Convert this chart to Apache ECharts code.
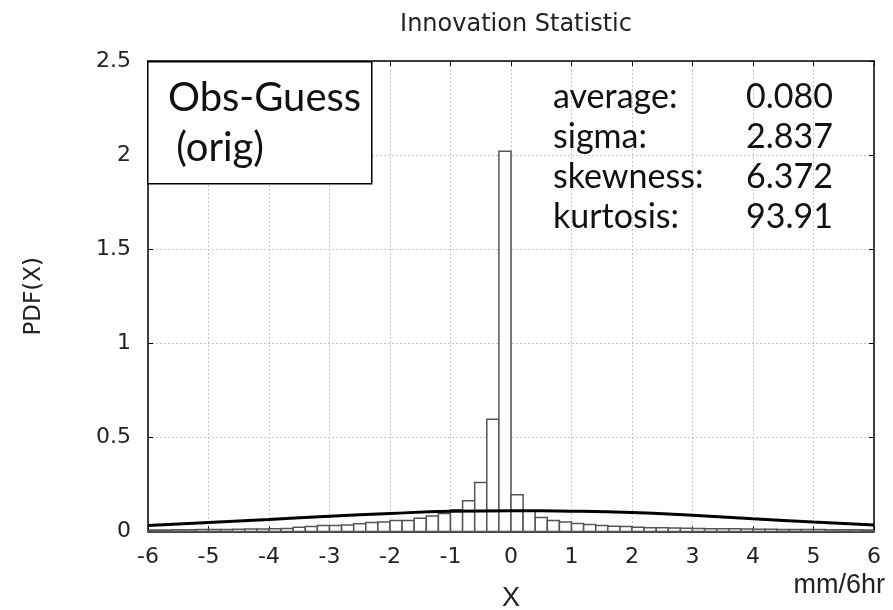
<!DOCTYPE html>
<html>
<head>
<meta charset="utf-8">
<script src="https://cdn.jsdelivr.net/npm/echarts@6/dist/echarts.min.js"></script>
<style>
  html, body { margin: 0; padding: 0; background: #fff; }
  #chart { width: 893px; height: 610px; }
</style>
</head>
<body>
<div id="chart"></div>
<script>
// Histogram bins (left edges, width 0.2) and their PDF heights
const binLeft = [
  -6.0, -5.8, -5.6, -5.4, -5.2, -5.0, -4.8, -4.6, -4.4, -4.2,
  -4.0, -3.8, -3.6, -3.4, -3.2, -3.0, -2.8, -2.6, -2.4, -2.2,
  -2.0, -1.8, -1.6, -1.4, -1.2, -1.0, -0.8, -0.6, -0.4, -0.2,
   0.0,  0.2,  0.4,  0.6,  0.8,  1.0,  1.2,  1.4,  1.6,  1.8,
   2.0,  2.2,  2.4,  2.6,  2.8,  3.0,  3.2,  3.4,  3.6,  3.8,
   4.0,  4.2,  4.4,  4.6,  4.8,  5.0,  5.2,  5.4,  5.6,  5.8
];
const binWidth = 0.2;
const pdfValues = [
  0.008, 0.008, 0.009, 0.009, 0.010, 0.011, 0.011, 0.012, 0.013, 0.013,
  0.015, 0.016, 0.023, 0.027, 0.032, 0.032, 0.035, 0.041, 0.048, 0.051,
  0.059, 0.059, 0.071, 0.082, 0.096, 0.115, 0.164, 0.260, 0.596, 2.020,
  0.195, 0.108, 0.074, 0.059, 0.050, 0.043, 0.037, 0.032, 0.028, 0.027,
  0.023, 0.020, 0.020, 0.018, 0.017, 0.016, 0.015, 0.014, 0.014, 0.013,
  0.012, 0.012, 0.011, 0.011, 0.010, 0.010, 0.009, 0.009, 0.009, 0.008
];

// Fitted normal curve, sampled at integer x
const curveX = [-6, -5, -4, -3, -2, -1, 0, 1, 2, 3, 4, 5, 6];
const curveY = [0.032, 0.048, 0.064, 0.081, 0.096, 0.107, 0.110, 0.108, 0.101, 0.086, 0.068, 0.050, 0.034];

// Axis ticks
const xTicks = [-6, -5, -4, -3, -2, -1, 0, 1, 2, 3, 4, 5, 6];
const yTicks = [0, 0.5, 1, 1.5, 2, 2.5];

// Summary statistics
const statNames = ['average:', 'sigma:', 'skewness:', 'kurtosis:'];
const statValues = ['0.080', '2.837', '6.372', '93.91'];

const chart = echarts.init(document.getElementById('chart'), null, { renderer: 'canvas' });

const histData = binLeft.map((x0, i) => [x0, x0 + binWidth, pdfValues[i]]);
const curveData = curveX.map((x, i) => [x, curveY[i]]);

const axisFont = '"DejaVu Sans", Verdana, sans-serif';
const unitFont = '"Liberation Sans", Arial, sans-serif';
const boxFont = 'Lato, Carlito, sans-serif';

const statTexts = [];
statNames.forEach((name, i) => {
  statTexts.push({
    type: 'text', left: 553, top: 80 + i * 40, z: 20,
    style: { text: name, font: '34px ' + boxFont, fill: '#111' }
  });
  statTexts.push({
    type: 'text', right: 60, top: 80 + i * 40, z: 20,
    style: { text: statValues[i], font: '34px ' + boxFont, fill: '#111', textAlign: 'right' }
  });
});

chart.setOption({
  animation: false,
  backgroundColor: '#fff',
  title: {
    text: 'Innovation Statistic',
    left: 511, top: 8, textAlign: 'center',
    textStyle: { fontFamily: axisFont, fontSize: 24, fontWeight: 'normal', color: '#222' }
  },
  grid: { left: 148, right: 19, top: 61, bottom: 78.5, containLabel: false, outerBoundsMode: 'none' },
  xAxis: [{
    type: 'value', min: -6, max: 6, interval: 1,
    axisLine: { show: true, onZero: false, lineStyle: { color: '#000', width: 1.5 } },
    axisTick: { show: true, inside: true, length: 5, lineStyle: { color: '#000' } },
    axisLabel: { margin: 15, fontFamily: axisFont, fontSize: 22, color: '#222',
      customValues: xTicks },
    splitLine: { show: true, lineStyle: { color: '#c8c8c8', type: [2, 2], width: 1 } },
    name: 'X', nameLocation: 'middle', nameGap: 54, nameMoveOverlap: false,
    nameTextStyle: { fontFamily: unitFont, fontSize: 27, color: '#222' }
  }, {
    type: 'value', position: 'top', min: -6, max: 6, interval: 1,
    axisLine: { show: true, onZero: false, lineStyle: { color: '#000', width: 1.5 } },
    axisTick: { show: true, inside: true, length: 5, lineStyle: { color: '#000' } },
    axisLabel: { show: false }, splitLine: { show: false }
  }],
  yAxis: [{
    type: 'value', min: 0, max: 2.5, interval: 0.5,
    axisLine: { show: true, onZero: false, lineStyle: { color: '#000', width: 1.5 } },
    axisTick: { show: true, inside: true, length: 5, lineStyle: { color: '#000' } },
    axisLabel: { margin: 17, fontFamily: axisFont, fontSize: 22, color: '#222',
      customValues: yTicks },
    splitLine: { show: true, lineStyle: { color: '#c8c8c8', type: [2, 2], width: 1 } },
    name: 'PDF(X)', nameLocation: 'middle', nameGap: 102, nameRotate: 90, nameMoveOverlap: false,
    nameTextStyle: { fontFamily: axisFont, fontSize: 23, color: '#222' }
  }, {
    type: 'value', position: 'right', min: 0, max: 2.5, interval: 0.5,
    axisLine: { show: true, onZero: false, lineStyle: { color: '#000', width: 1.5 } },
    axisTick: { show: true, inside: true, length: 5, lineStyle: { color: '#000' } },
    axisLabel: { show: false }, splitLine: { show: false }
  }],
  series: [{
    type: 'custom',
    xAxisIndex: 0, yAxisIndex: 0,
    z: 3,
    data: histData,
    renderItem: function (params, api) {
      const p0 = api.coord([api.value(0), api.value(2)]);
      const p1 = api.coord([api.value(1), 0]);
      return {
        type: 'rect',
        shape: { x: p0[0], y: p0[1], width: p1[0] - p0[0], height: p1[1] - p0[1] },
        style: { fill: '#fff', stroke: '#555', lineWidth: 1.5 }
      };
    }
  }, {
    type: 'line',
    xAxisIndex: 0, yAxisIndex: 0,
    z: 5,
    data: curveData,
    smooth: true,
    symbol: 'none',
    lineStyle: { color: '#000', width: 3 }
  }],
  graphic: [{
    type: 'rect', left: 147, top: 61, z: 15,
    shape: { width: 224, height: 122 },
    style: { fill: '#fff', stroke: '#000', lineWidth: 1.5 }
  }, {
    type: 'text', left: 168, top: 78, z: 20,
    style: { text: 'Obs-Guess', font: '40px ' + boxFont, fill: '#111' }
  }, {
    type: 'text', left: 166, top: 128, z: 20,
    style: { text: ' (orig)', font: '40px ' + boxFont, fill: '#111' }
  }, {
    type: 'text', right: 8, top: 572, z: 20,
    style: { text: 'mm/6hr', font: '27px ' + unitFont, fill: '#222', textAlign: 'right' }
  }].concat(statTexts)
});
</script>
</body>
</html>
